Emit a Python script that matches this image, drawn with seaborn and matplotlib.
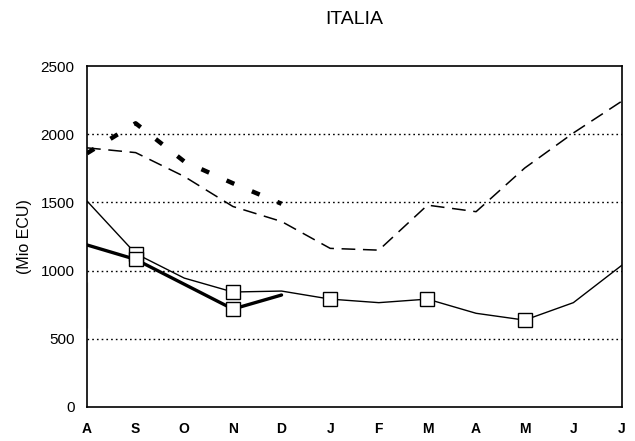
import matplotlib
matplotlib.use("Agg")
import matplotlib.pyplot as plt
import seaborn as sns
import numpy as np

# Month labels (August to July)
months = ["A", "S", "O", "N", "D", "J", "F", "M", "A", "M", "J", "J"]

# Series values (Mio ECU)
thin_dashed = [1900, 1865, 1690, 1470, 1360, 1163, 1150, 1480, 1432, 1752, 2009, 2243]
thick_dashed = [1860, 2080, 1800, 1640, 1490]
thin_solid = [1510, 1125, 945, 843, 850, 791, 765, 791, 687, 637, 765, 1040]
thick_solid = [1188, 1082, 900, 718, 821]
thick_stub = [580, 920]

y_ticks = [0, 500, 1000, 1500, 2000, 2500]

sns.set_theme(style="white")
plt.rcParams["font.family"] = ["Liberation Sans", "DejaVu Sans"]

fig = plt.figure(figsize=(6.35, 4.41), dpi=100)
ax = fig.add_axes([87 / 635, 34 / 441, 535 / 635, 341 / 441])

x_all = np.arange(len(months))

sns.lineplot(x=x_all, y=thin_dashed, ax=ax, color="black", linewidth=1.1,
             linestyle=(0, (9, 5)), sort=False)
sns.lineplot(x=x_all[:len(thick_dashed)], y=thick_dashed, ax=ax, color="black",
             linewidth=3.2, linestyle=(0, (1.9, 4.3)), sort=False)
sns.lineplot(x=x_all, y=thin_solid, ax=ax, color="black", linewidth=1.0,
             marker="s", markersize=10.5, markerfacecolor="white",
             markeredgecolor="black", markeredgewidth=1.0,
             markevery=[1, 3, 5, 7, 9], sort=False)
sns.lineplot(x=x_all[:len(thick_solid)], y=thick_solid, ax=ax, color="black",
             linewidth=2.4, marker="s", markersize=10.5, markerfacecolor="white",
             markeredgecolor="black", markeredgewidth=1.0,
             markevery=[1, 3], sort=False)
sns.lineplot(x=[0, 0], y=thick_stub, ax=ax, color="black", linewidth=2.4,
             sort=False)

ax.set_xlim(0, len(months) - 1)
ax.set_ylim(0, 2500)
ax.set_xticks(x_all)
ax.set_xticklabels(months)
ax.set_yticks(y_ticks)
ax.set_yticklabels([str(v) for v in y_ticks])

for yv in y_ticks[1:-1]:
    ax.axhline(yv, color="black", linewidth=1.0, linestyle=(0, (1.2, 2.2)), zorder=0)

for side in ["left", "right", "top", "bottom"]:
    ax.spines[side].set_visible(True)
    ax.spines[side].set_color("black")
    ax.spines[side].set_linewidth(1.2)

ax.tick_params(axis="x", direction="in", length=5, width=1, colors="black",
               labelsize=10, pad=11)
ax.tick_params(axis="y", direction="out", length=7, width=1, colors="black",
               labelsize=11, pad=2)
for lab in ax.get_xticklabels():
    lab.set_fontweight("bold")

ax.set_ylabel("(Mio ECU)", fontsize=11.5, color="black", labelpad=6)
ax.set_xlabel("")
fig.text(354 / 635, 1 - 19 / 441, "ITALIA", ha="center", va="center",
         fontsize=14, color="black")

fig.savefig("out.png", dpi=100)
